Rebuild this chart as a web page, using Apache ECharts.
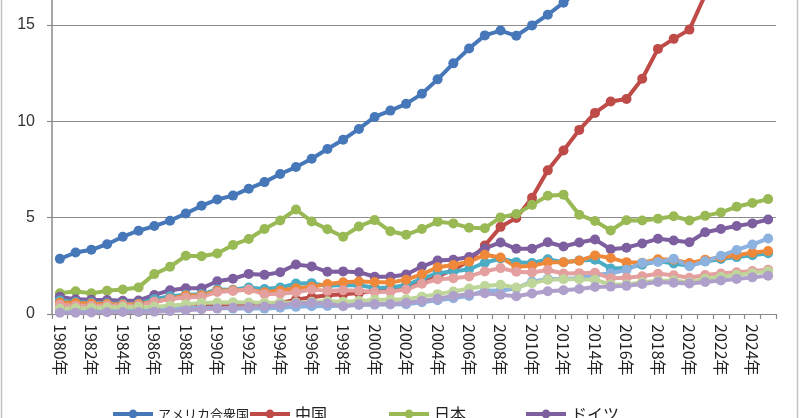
<!DOCTYPE html>
<html>
<head>
<meta charset="utf-8">
<script src="https://cdn.jsdelivr.net/npm/echarts@6/dist/echarts.min.js"></script>
<style>
html,body{margin:0;padding:0;background:#fff;}
#main{width:800px;height:418px;}
</style>
</head>
<body>
<div id="main"></div>
<script>
// ---- data (trillion USD) ----
var years = [];
for (var y = 1980; y <= 2025; y++) years.push(y + '年');

var usa = [2.86,3.19,3.33,3.62,4.01,4.32,4.56,4.84,5.21,5.61,5.94,6.14,6.50,6.84,7.26,7.62,8.05,8.56,9.04,9.60,10.22,10.55,10.90,11.42,12.17,13.00,13.77,14.45,14.70,14.43,14.97,15.52,16.15,16.80,17.52,18.22,18.71,19.52,20.58,21.43,20.81,22.20,23.00,23.80,24.60,25.40];
var china = [0.30,0.29,0.28,0.30,0.31,0.31,0.30,0.33,0.41,0.46,0.40,0.42,0.50,0.45,0.57,0.74,0.87,0.97,1.03,1.09,1.21,1.34,1.47,1.66,1.96,2.29,2.75,3.55,4.52,4.98,6.03,7.45,8.48,9.55,10.43,11.02,11.15,12.20,13.75,14.27,14.75,16.55,17.80,19.00,20.20,21.40];
var japan = [1.08,1.18,1.07,1.21,1.27,1.38,2.07,2.45,3.02,3.00,3.14,3.58,3.89,4.41,4.85,5.42,4.80,4.40,4.01,4.54,4.87,4.29,4.11,4.41,4.79,4.70,4.47,4.45,5.01,5.19,5.66,6.13,6.19,5.15,4.82,4.33,4.86,4.85,4.94,5.07,4.85,5.09,5.27,5.56,5.76,5.96];
var germany = [0.90,0.76,0.74,0.73,0.69,0.70,0.99,1.23,1.34,1.33,1.70,1.83,2.08,2.03,2.17,2.57,2.47,2.19,2.21,2.17,1.93,1.93,2.05,2.46,2.77,2.81,2.96,3.40,3.71,3.38,3.38,3.72,3.50,3.71,3.86,3.36,3.44,3.66,3.90,3.81,3.72,4.24,4.41,4.56,4.70,4.90];
var france = [0.70,0.62,0.59,0.56,0.53,0.55,0.77,0.92,1.00,1.02,1.27,1.26,1.37,1.30,1.37,1.58,1.60,1.46,1.50,1.49,1.36,1.38,1.49,1.84,2.12,2.20,2.32,2.66,2.88,2.69,2.64,2.84,2.68,2.78,2.82,2.36,2.38,2.55,2.75,2.62,2.50,2.72,2.85,2.95,3.05,3.15];
var uk = [0.60,0.57,0.54,0.52,0.49,0.52,0.63,0.79,0.96,0.97,1.20,1.23,1.26,1.13,1.22,1.34,1.41,1.56,1.65,1.69,1.66,1.64,1.78,2.06,2.42,2.54,2.71,3.07,2.93,2.45,2.50,2.68,2.68,2.76,3.04,2.90,2.69,2.66,2.84,2.82,2.64,2.82,2.93,3.05,3.18,3.27];
var india = [0.19,0.20,0.21,0.22,0.22,0.24,0.26,0.29,0.31,0.31,0.33,0.28,0.29,0.28,0.33,0.37,0.40,0.42,0.43,0.47,0.48,0.49,0.51,0.61,0.71,0.82,0.94,1.22,1.20,1.34,1.68,1.82,1.83,1.86,2.04,2.10,2.29,2.65,2.70,2.86,2.48,2.73,3.02,3.32,3.60,3.92];
var italy = [0.48,0.43,0.43,0.44,0.44,0.45,0.63,0.78,0.85,0.89,1.14,1.19,1.27,1.03,1.05,1.13,1.27,1.20,1.23,1.21,1.14,1.16,1.27,1.57,1.80,1.86,1.95,2.21,2.38,2.19,2.15,2.28,2.10,2.12,2.14,1.86,1.88,1.96,2.09,2.01,1.88,2.02,2.10,2.17,2.23,2.30];
var canada = [0.27,0.30,0.31,0.34,0.35,0.36,0.38,0.43,0.51,0.57,0.60,0.61,0.59,0.58,0.58,0.60,0.63,0.66,0.63,0.68,0.74,0.74,0.76,0.90,1.03,1.17,1.32,1.45,1.52,1.37,1.60,1.77,1.80,1.80,1.77,1.53,1.53,1.65,1.72,1.74,1.64,1.83,1.93,2.03,2.12,2.22];
var korea = [0.07,0.07,0.08,0.09,0.10,0.10,0.12,0.15,0.20,0.25,0.28,0.33,0.36,0.39,0.46,0.55,0.58,0.54,0.40,0.50,0.52,0.52,0.58,0.68,0.79,0.93,1.03,1.08,1.00,0.92,1.06,1.18,1.23,1.30,1.40,1.42,1.46,1.56,1.66,1.62,1.58,1.66,1.74,1.82,1.90,1.98];

var seriesNames = ['アメリカ合衆国','中国','日本','ドイツ','フランス','イギリス','インド','イタリア','カナダ','韓国'];
var seriesData = [usa, china, japan, germany, france, uk, india, italy, canada, korea];
var seriesColors = ['#4677B8','#BE4B48','#98B954','#7D5FA0','#4BACC6','#F0883A','#8DB2DF','#E3A09F','#BFD69A','#AF9FCB'];
var legendNames = ['アメリカ合衆国','中国','日本','ドイツ'];
var legendLeft = [106, 243, 382, 519];
var legendFont = [13, 16, 16, 16];
var yTicks = [0, 5, 10, 15];

var chart = echarts.init(document.getElementById('main'), null, {renderer: 'canvas'});

var series = seriesNames.map(function (n, i) {
  return {
    name: n,
    type: 'line',
    data: seriesData[i],
    symbol: 'circle',
    symbolSize: 10,
    showAllSymbol: true,
    clip: true,
    lineStyle: {width: 4, color: seriesColors[i]},
    itemStyle: {color: seriesColors[i]},
    emphasis: {disabled: true}
  };
});

var legends = legendNames.map(function (n, i) {
  return {
    data: [n],
    left: legendLeft[i],
    top: 400,
    itemWidth: 40,
    itemHeight: 11,
    itemGap: 0,
    lineStyle: {width: 4},
    textStyle: {fontSize: legendFont[i], color: '#222', fontFamily: 'Noto Sans CJK JP', lineHeight: 18}
  };
});

chart.setOption({
  animation: false,
  backgroundColor: '#fff',
  color: seriesColors,
  grid: {left: 52, right: 24, top: -2, bottom: 104, containLabel: false, outerBoundsMode: 'none'},
  legend: legends,
  xAxis: {
    type: 'category',
    data: years,
    boundaryGap: true,
    axisLine: {show: true, lineStyle: {color: '#8a8a8a', width: 1.2}},
    axisTick: {show: true, interval: 0, length: 5, lineStyle: {color: '#8a8a8a', width: 1.2}},
    axisLabel: {
      interval: 1,
      rotate: -90,
      margin: 10,
      fontSize: 16,
      color: '#222',
      fontFamily: 'Noto Sans CJK JP'
    },
    splitLine: {show: false}
  },
  yAxis: {
    type: 'value',
    min: 0,
    max: 16.39,
    interval: 5,
    axisLine: {show: true, lineStyle: {color: '#8a8a8a', width: 1.5}},
    axisTick: {show: true, length: 5, lineStyle: {color: '#8a8a8a', width: 1.2}},
    axisLabel: {
      margin: 17,
      fontSize: 16,
      color: '#333',
      fontFamily: 'Liberation Sans',
      showMaxLabel: false,
      formatter: function (v) { return yTicks.indexOf(v) >= 0 ? String(v) : ''; }
    },
    splitLine: {show: true, lineStyle: {color: '#8c8c8c', width: 1.2}}
  },
  graphic: [{
    type: 'rect',
    silent: true,
    shape: {x: 1.5, y: -5, width: 796, height: 440},
    style: {fill: 'none', stroke: '#c4c4c4', lineWidth: 1.5},
    z: 100
  }],
  series: series
});
</script>
</body>
</html>
